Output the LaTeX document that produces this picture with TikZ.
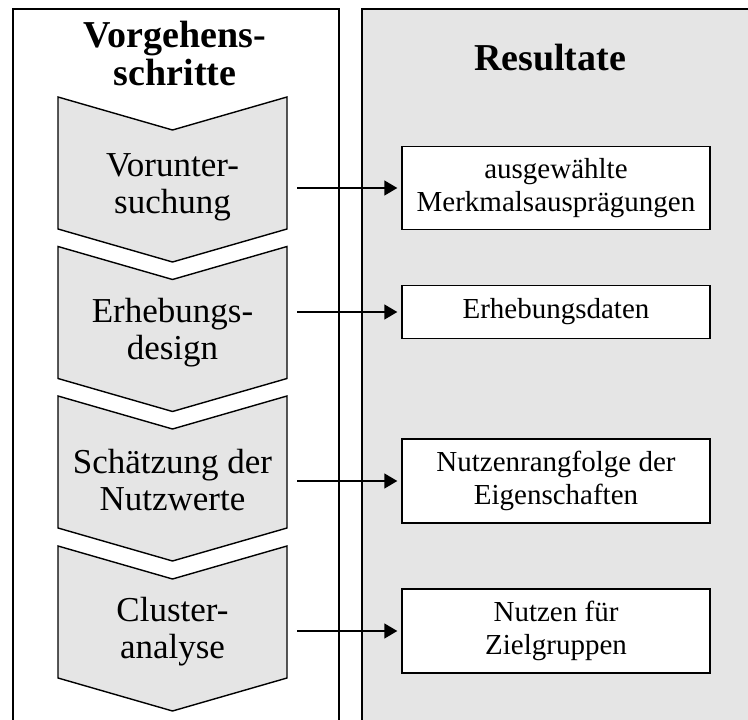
\documentclass[tikz,border=0pt]{standalone}
\usepackage{fontspec}
\setmainfont{Liberation Serif}
\usetikzlibrary{arrows.meta}
\definecolor{panelgray}{RGB}{229,229,229}
\begin{document}
\begin{tikzpicture}[x=1pt,y=-1pt,
  panel/.style={line width=1.4pt},
  chevron/.style={draw, line width=1.4pt, fill=panelgray, line join=miter},
  steptext/.style={align=center, inner sep=0pt, minimum width=229pt,
    font=\fontsize{35}{37}\selectfont},
  heading/.style={align=center, inner sep=0pt,
    font=\fontsize{38}{38}\selectfont\bfseries},
  resultbox/.style={draw, line width=1.4pt, fill=white, align=center,
    inner sep=0pt, minimum width=308pt, font=\fontsize{29}{33}\selectfont},
  link/.style={line width=1.4pt, -{Triangle[length=13pt,width=15pt]},
    shorten <=10pt, shorten >=4pt}
]
\useasboundingbox (0,0) rectangle (748,720);
\clip (0,0) rectangle (748,720);

% the two columns
\draw[panel, fill=white] (13,9) rectangle (339,740);
\draw[panel, fill=panelgray] (362,9) rectangle (760,740);

% column headings
\node[heading] (h1) at (175,54) {Vorgehens-\\schritte};
\node[heading, anchor=base] (h2) at (550,70) {Resultate};

% chevrons of the procedure steps
\foreach \yt in {97,246.5,396,546}
  \draw[chevron] (58,\yt) -- (172.5,\yt+33) -- (287,\yt) -- (287,\yt+132)
    -- (172.5,\yt+165) -- (58,\yt+132) -- cycle;

\node[steptext] (s1) at (172.5,187) {Vorunter-\\suchung};
\node[steptext] (s2) at (172.5,333) {Erhebungs-\\design};
\node[steptext] (s3) at (172.5,480) {Schätzung der\\Nutzwerte};
\node[steptext] (s4) at (172.5,632) {Cluster-\\analyse};

% results
\node[resultbox, minimum height=83pt] (r1) at (556,188) {ausgewählte\\Merkmalsausprägungen};
\node[resultbox, minimum height=53pt] (r2) at (556,312) {Erhebungsdaten};
\node[resultbox, minimum height=84pt] (r3) at (556,481) {Nutzenrangfolge der\\Eigenschaften};
\node[resultbox, minimum height=84pt] (r4) at (556,631) {Nutzen für\\Zielgruppen};

% links from steps to results
\foreach \i in {1,...,4}
  \draw[link] (s\i.east |- r\i.west) -- (r\i.west);
\end{tikzpicture}
\end{document}
